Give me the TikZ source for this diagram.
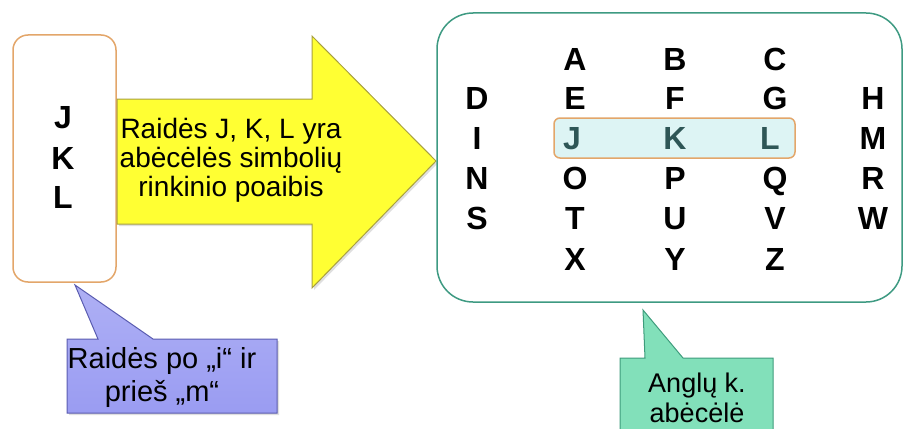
\documentclass[tikz,border=0pt]{standalone}
\usepackage{fontspec}
\setmainfont{Liberation Sans}
\usetikzlibrary{shadows}
\definecolor{boxorange}{HTML}{E3A66A}
\definecolor{boxteal}{HTML}{3E9A82}
\definecolor{arrowfill}{HTML}{FFFF33}
\definecolor{arrowedge}{HTML}{A8A040}
\definecolor{hlfill}{HTML}{DDF4F4}
\definecolor{hltext}{HTML}{2E5656}
\definecolor{purplefill}{HTML}{9A9CF2}
\definecolor{purpleedge}{HTML}{5A5CB0}
\definecolor{greenfill}{HTML}{82E0BA}
\definecolor{greenedge}{HTML}{3E9C7C}
\tikzset{
  letter/.style={font=\fontsize{32}{32}\selectfont\bfseries, inner sep=0pt, anchor=center, text height=23pt, text depth=0pt},
  bodytext/.style={font=\fontsize{28}{29}\selectfont, align=center, inner sep=0pt},
  calltext/.style={font=\fontsize{29}{33}\selectfont, align=center, inner sep=0pt},
  greentext/.style={font=\fontsize{27}{30}\selectfont, align=center, inner sep=0pt},
}
\begin{document}
\begin{tikzpicture}[x=1pt,y=-1pt]
\useasboundingbox (0,0) rectangle (904,428);
% left box
\draw[boxorange, line width=1.5pt, fill=white, rounded corners=15pt] (13,35) rectangle (116,282);
\node[letter] (j1) at (63,117) {J};
\node[letter] (k1) at (63,158) {K};
\node[letter] (l1) at (63,197) {L};
% arrow
\draw[arrowedge, line width=1pt, fill=arrowfill, drop shadow={opacity=0.25, shadow xshift=2pt, shadow yshift=-2pt}]
  (117,99) -- (312,99) -- (312,36) -- (436,161) -- (312,288) -- (312,224) -- (117,224) -- cycle;
\node[bodytext] (arrowtext) at (231,160) {Raidės J, K, L yra\\abėcėlės simbolių\\rinkinio poaibis};
% right box
\draw[boxteal, line width=1.5pt, fill=white, rounded corners=36pt] (437,13) rectangle (902,302);
% highlight
\draw[boxorange, line width=1.5pt, fill=hlfill, rounded corners=6pt] (554,118) rectangle (795,158);
% letters
\node[letter] (A) at (575,59) {A};
\node[letter] (B) at (675,59) {B};
\node[letter] (C) at (775,59) {C};
\node[letter] (D) at (477,98) {D};
\node[letter] (E) at (575,98) {E};
\node[letter] (F) at (675,98) {F};
\node[letter] (G) at (775,98) {G};
\node[letter] (H) at (873,98) {H};
\node[letter] (I) at (477,138) {I};
\node[letter, text=hltext] (J) at (572,138) {J};
\node[letter, text=hltext] (K) at (675,138) {K};
\node[letter, text=hltext] (L) at (770,138) {L};
\node[letter] (M) at (873,138) {M};
\node[letter] (N) at (477,178) {N};
\node[letter] (O) at (575,178) {O};
\node[letter] (P) at (675,178) {P};
\node[letter] (Q) at (775,178) {Q};
\node[letter] (R) at (873,178) {R};
\node[letter] (S) at (477,218) {S};
\node[letter] (T) at (575,218) {T};
\node[letter] (U) at (675,218) {U};
\node[letter] (V) at (775,218) {V};
\node[letter] (W) at (873,218) {W};
\node[letter] (X) at (575,259) {X};
\node[letter] (Y) at (675,259) {Y};
\node[letter] (Z) at (775,259) {Z};
% purple callout
\draw[purpleedge, line width=1pt, top color=purplefill!80!white, bottom color=purplefill, drop shadow={opacity=0.25, shadow xshift=2pt, shadow yshift=-2pt}]
  (67,339) -- (98,339) -- (75,285) -- (153,339) -- (277,339) -- (277,413) -- (67,413) -- cycle;
\node[calltext] (ptext) at (162,377) {Raidės po „i“ ir\\prieš „m“};
% green callout
\draw[greenedge, line width=1pt, fill=greenfill]
  (620,358) -- (645,358) -- (643,310) -- (683,358) -- (773,358) -- (773,432) -- (620,432) -- cycle;
\node[greentext] (gtext) at (697,398) {Anglų k.\\abėcėlė};
\end{tikzpicture}
\end{document}
